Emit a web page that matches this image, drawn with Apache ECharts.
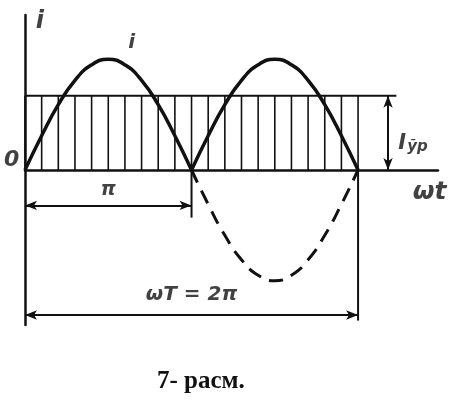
<!DOCTYPE html>
<html><head><meta charset="utf-8">
<script src="https://cdn.jsdelivr.net/npm/echarts@6/dist/echarts.min.js"></script>
<style>html,body{margin:0;padding:0;background:#fff}#c{width:455px;height:406px}</style>
</head><body><div id="c"></div>
<script>
// x in units of pi, y in units of amplitude
const phase = [0, 0.1, 0.2, 0.3, 0.4, 0.5, 0.6, 0.7, 0.8, 0.9, 1.0];
const arch = [0, 0.31, 0.59, 0.81, 0.95, 1.0, 0.95, 0.81, 0.59, 0.31, 0];
const meanLevel = 0.67;
const hatchX = [0,0.1,0.2,0.3,0.4,0.5,0.6,0.7,0.8,0.9,1.0,1.1,1.2,1.3,1.4,1.5,1.6,1.7,1.8,1.9,2.0];
const rectEnd = 2.23;
const arrowX = 2.18;
const piDimY = -0.32;
const periodDimY = -1.31;
const caption = '7- расм.';

const arch1 = phase.map((p, i) => [p, arch[i]]);
const arch2 = phase.map((p, i) => [p + 1, arch[i]]);
const neg = phase.map((p, i) => [p + 1, -arch[i]]);
const hatch = hatchX.map(x => [x, meanLevel]);

const K = '#111';
const lbl = (x, y, text, size, extra) => ({
  value: [x, y],
  label: Object.assign({show: true, position: 'inside', formatter: text, fontSize: size,
    fontStyle: 'italic', fontWeight: 'bold', fontFamily: 'DejaVu Sans', color: K}, extra || {})
});

const chart = echarts.init(document.getElementById('c'));
chart.setOption({
  backgroundColor: '#fff',
  animation: false,
  title: {text: caption, left: 152, top: 364,
    textStyle: {fontFamily: 'Liberation Serif', fontWeight: 'bold', fontSize: 25, color: K}},
  grid: {left: 25, right: 17, top: 15, bottom: 81},
  xAxis: {type: 'value', min: 0, max: 2.48, splitLine: {show: false},
    axisTick: {show: false}, axisLabel: {show: false},
    axisLine: {onZero: true, lineStyle: {color: K, width: 2.5}}},
  yAxis: {type: 'value', min: -1.4, max: 1.4, splitLine: {show: false},
    axisTick: {show: false}, axisLabel: {show: false},
    axisLine: {onZero: false, lineStyle: {color: K, width: 2.5}}},
  series: [
    {type: 'bar', data: hatch, barWidth: 1.6, itemStyle: {color: K}, silent: true},
    {type: 'line', data: [[0, meanLevel], [rectEnd, meanLevel]], symbol: 'none',
      lineStyle: {color: K, width: 2},
      markLine: {silent: true, symbol: ['arrow', 'arrow'], symbolSize: [7, 12],
        label: {show: false}, lineStyle: {color: K, width: 2, type: 'solid'},
        data: [
          [{coord: [arrowX, meanLevel]}, {coord: [arrowX, 0]}],
          [{coord: [0, piDimY]}, {coord: [1, piDimY]}],
          [{coord: [0, periodDimY]}, {coord: [2, periodDimY]}]
        ]}},
    {type: 'line', data: [[1, 0], [1, -0.43]], symbol: 'none', lineStyle: {color: K, width: 2}},
    {type: 'line', data: [[2, 0], [2, -1.36]], symbol: 'none', lineStyle: {color: K, width: 2}},
    {type: 'line', data: arch1, smooth: true, symbol: 'none', lineStyle: {color: K, width: 3.5}},
    {type: 'line', data: arch2, smooth: true, symbol: 'none', lineStyle: {color: K, width: 3.5}},
    {type: 'line', data: neg, smooth: true, symbol: 'none',
      lineStyle: {color: K, width: 3, type: [14, 9]}},
    {type: 'scatter', symbolSize: 0, clip: false, silent: true,
      data: [
        lbl(0.09, 1.34, 'i', 24),
        lbl(0.64, 1.15, 'i', 20),
        lbl(-0.08, 0.09, '0', 22),
        lbl(0.5, -0.18, 'π', 19),
        lbl(2.43, -0.2, 'ωt', 25),
        lbl(2.33, 0.24, '{a|I}{b|ўр}', 20, {rich: {
          a: {fontSize: 21, fontStyle: 'italic', fontFamily: 'DejaVu Sans', color: K},
          b: {fontSize: 15, fontStyle: 'italic', fontFamily: 'DejaVu Sans', color: K, padding: [8, 0, 0, 1]}}}),
        lbl(1.0, -1.13, 'ωT = 2π', 20)
      ]}
  ]
});
</script></body></html>
